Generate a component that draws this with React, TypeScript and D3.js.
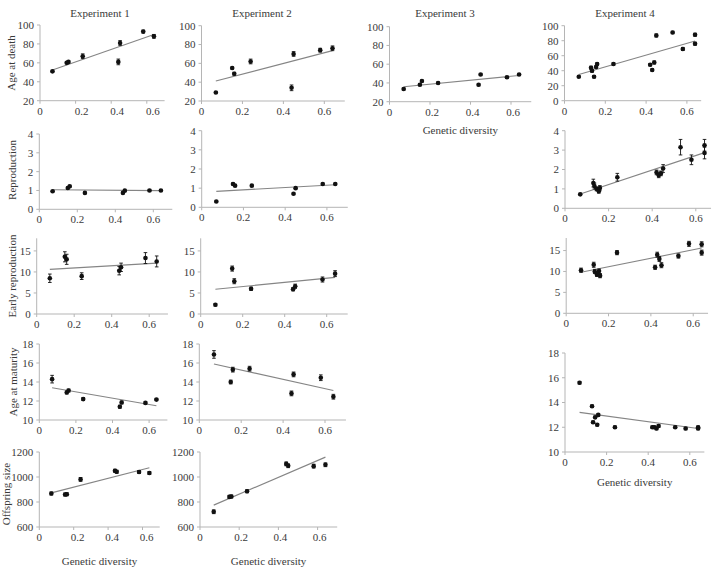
import * as d3 from 'd3'

const FONT = '"Liberation Serif", "Times New Roman", serif'
const INK = '#3a3a3a'
const AXIS = '#b5b5b5'
const FIT = '#858585'

// genetic diversity of the populations (experiments 1-3 and experiment 4)
const GD = [0.07, 0.15, 0.16, 0.24, 0.44, 0.45, 0.58, 0.64]
const GD4 = [0.07, 0.13, 0.135, 0.145, 0.155, 0.16, 0.24, 0.42, 0.43, 0.44, 0.45, 0.53, 0.58, 0.64, 0.64]

const X_TICKS = [0, 0.2, 0.4, 0.6]
const AGE_TICKS = [20, 40, 60, 80, 100]
const AGE4_TICKS = [0, 20, 40, 60, 80, 100]
const REPRO_TICKS = [0, 1, 2, 3, 4]
const EARLY_TICKS = [0, 5, 10, 15]
const MAT_TICKS = [10, 12, 14, 16, 18]
const OFF_TICKS = [600, 800, 1000, 1200]

const EXPERIMENTS = ['Experiment 1', 'Experiment 2', 'Experiment 3', 'Experiment 4']
const TRAITS = ['Age at death', 'Reproduction', 'Early reproduction', 'Age at maturity', 'Offspring size']

// age at death
const death1 = [51, 60, 61, 67, 61, 81, 93, 88]
const death1Err = [1, 1, 1, 2.5, 3, 2.5, 1.5, 2]
const death1Fit = [52.5, 90]
const death2 = [29, 55, 49, 62, 34, 70, 74, 76]
const death2Err = [1, 1, 1.5, 2.5, 3, 2.5, 2, 2.5]
const death2Fit = [41.2, 73.5]
const death3 = [33.5, 38, 42, 40, 38, 49, 46, 49]
const death3Err = [1, 1, 1, 1, 1, 1, 1, 1]
const death3Fit = [36, 48]
const death4 = [32, 44, 40, 32, 45, 49, 49, 48, 41, 51, 87, 91, 69, 88, 76]
const death4Err = [1, 2, 2, 1.5, 1.5, 1.5, 1.5, 1.5, 1.5, 2, 2, 1.5, 2, 2, 2]
const death4Fit = [35, 79.5]

// reproduction
const repro1 = [0.96, 1.13, 1.22, 0.87, 0.87, 0.99, 1.0, 1.0]
const repro1Err = [0.04, 0.05, 0.05, 0.04, 0.04, 0.04, 0.04, 0.04]
const repro1Fit = [1.04, 0.99]
const repro2 = [0.3, 1.22, 1.13, 1.13, 0.71, 1.0, 1.22, 1.22]
const repro2Err = [0.04, 0.05, 0.05, 0.05, 0.04, 0.04, 0.04, 0.04]
const repro2Fit = [0.83, 1.18]
const repro4 = [0.72, 1.3, 1.15, 1.0, 0.88, 1.05, 1.6, 1.85, 1.7, 1.8, 2.05, 3.15, 2.5, 3.25, 2.85]
const repro4Err = [0.05, 0.2, 0.15, 0.1, 0.1, 0.12, 0.2, 0.12, 0.12, 0.12, 0.2, 0.4, 0.25, 0.3, 0.3]
const repro4Fit = [0.74, 2.87]

// early reproduction
const early1 = [8.5, 13.6, 13.0, 9.0, 10.3, 11.1, 13.3, 12.5]
const early1Err = [1, 1.2, 1.2, 0.8, 1, 1, 1.3, 1.3]
const early1Fit = [10.6, 12.1]
const early2 = [2.2, 10.8, 7.8, 6.0, 5.9, 6.6, 8.2, 9.6]
const early2Err = [0.3, 0.6, 0.6, 0.4, 0.4, 0.5, 0.6, 0.7]
const early2Fit = [5.9, 8.7]
const early4 = [10.3, 11.6, 10.0, 9.3, 10.1, 9.0, 14.5, 11.0, 14.0, 13.0, 11.5, 13.7, 16.6, 16.5, 14.5]
const early4Err = [0.5, 0.6, 0.5, 0.5, 0.5, 0.5, 0.5, 0.5, 0.6, 0.6, 0.6, 0.5, 0.6, 0.6, 0.6]
const early4Fit = [9.8, 15.6]

// age at maturity
const mat1 = [14.3, 12.9, 13.1, 12.2, 11.4, 11.85, 11.8, 12.15]
const mat1Err = [0.4, 0.15, 0.15, 0.15, 0.15, 0.15, 0.1, 0.1]
const mat1Fit = [13.4, 11.5]
const mat2 = [16.9, 14.0, 15.3, 15.4, 12.8, 14.8, 14.45, 12.45]
const mat2Err = [0.4, 0.2, 0.25, 0.25, 0.25, 0.25, 0.3, 0.25]
const mat2Fit = [15.9, 13.1]
const mat4 = [15.6, 13.7, 12.4, 12.8, 12.2, 13.0, 12.0, 12.0, 12.0, 11.9, 12.1, 12.0, 11.9, 12.0, 11.9]
const mat4Err = [0.1, 0.1, 0.1, 0.1, 0.1, 0.1, 0.1, 0.1, 0.1, 0.1, 0.1, 0.1, 0.1, 0.1, 0.1]
const mat4Fit = [13.2, 11.9]

// offspring size
const off1 = [868, 860, 862, 981, 1050, 1042, 1040, 1032]
const off1Err = [12, 12, 12, 15, 12, 12, 12, 12]
const off1Fit = [873, 1074]
const off2 = [722, 841, 844, 886, 1105, 1090, 1087, 1098]
const off2Err = [15, 12, 12, 12, 15, 15, 15, 15]
const off2Fit = [775, 1159]

type Panel = {
  xs: number[]; ys: number[]; err: number[]; fit: number[]
  yDomain: number[]; yTicks: number[]
  x0: number; k: number; xMax: number; yTop: number; yBot: number
  labelDx?: number; xLabelDy?: number
}

const panels: Panel[] = [
  { xs: GD, ys: death1, err: death1Err, fit: death1Fit, yDomain: [20, 100], yTicks: AGE_TICKS, x0: 40, k: 178, xMax: 0.7, yTop: 25, yBot: 100.7, labelDx: 6 },
  { xs: GD, ys: death2, err: death2Err, fit: death2Fit, yDomain: [20, 100], yTicks: AGE_TICKS, x0: 201.5, k: 204.7, xMax: 0.7, yTop: 25.7, yBot: 101 },
  { xs: GD, ys: death3, err: death3Err, fit: death3Fit, yDomain: [20, 100], yTicks: AGE_TICKS, x0: 389.5, k: 202.5, xMax: 0.7, yTop: 26.7, yBot: 101.7, labelDx: 2, xLabelDy: 32 },
  { xs: GD4, ys: death4, err: death4Err, fit: death4Fit, yDomain: [0, 100], yTicks: AGE4_TICKS, x0: 564.5, k: 204, xMax: 0.67, yTop: 25.7, yBot: 100.7 },
  { xs: GD, ys: repro1, err: repro1Err, fit: repro1Fit, yDomain: [0, 4], yTicks: REPRO_TICKS, x0: 39.3, k: 190, xMax: 0.7, yTop: 134, yBot: 209.3 },
  { xs: GD, ys: repro2, err: repro2Err, fit: repro2Fit, yDomain: [0, 4], yTicks: REPRO_TICKS, x0: 201.7, k: 208.7, xMax: 0.7, yTop: 130.7, yBot: 207.3 },
  { xs: GD4, ys: repro4, err: repro4Err, fit: repro4Fit, yDomain: [0, 4], yTicks: REPRO_TICKS, x0: 565, k: 218, xMax: 0.67, yTop: 130.7, yBot: 208.3 },
  { xs: GD, ys: early1, err: early1Err, fit: early1Fit, yDomain: [0, 18], yTicks: EARLY_TICKS, x0: 36.7, k: 187.5, xMax: 0.7, yTop: 238.3, yBot: 314 },
  { xs: GD, ys: early2, err: early2Err, fit: early2Fit, yDomain: [0, 18], yTicks: EARLY_TICKS, x0: 200.7, k: 210, xMax: 0.7, yTop: 238.3, yBot: 314 },
  { xs: GD4, ys: early4, err: early4Err, fit: early4Fit, yDomain: [0, 18], yTicks: EARLY_TICKS, x0: 566.2, k: 211.7, xMax: 0.67, yTop: 238, yBot: 313.3 },
  { xs: GD, ys: mat1, err: mat1Err, fit: mat1Fit, yDomain: [10, 18], yTicks: MAT_TICKS, x0: 39.3, k: 183, xMax: 0.7, yTop: 344, yBot: 420 },
  { xs: GD, ys: mat2, err: mat2Err, fit: mat2Fit, yDomain: [10, 18], yTicks: MAT_TICKS, x0: 199.3, k: 209.5, xMax: 0.7, yTop: 344, yBot: 420 },
  { xs: GD4, ys: mat4, err: mat4Err, fit: mat4Fit, yDomain: [10, 18], yTicks: MAT_TICKS, x0: 565, k: 208, xMax: 0.67, yTop: 353, yBot: 452, xLabelDy: 34 },
  { xs: GD, ys: off1, err: off1Err, fit: off1Fit, yDomain: [600, 1200], yTicks: OFF_TICKS, x0: 39.3, k: 172, xMax: 0.7, yTop: 452, yBot: 527, labelDx: 4, xLabelDy: 38 },
  { xs: GD, ys: off2, err: off2Err, fit: off2Fit, yDomain: [600, 1200], yTicks: OFF_TICKS, x0: 200, k: 196, xMax: 0.7, yTop: 452, yBot: 527, labelDx: 2, xLabelDy: 38 },
]

const traitX = [15, 16, 16, 17, 10]
const traitY = [63, 170, 276, 382, 494]
const titleX = [100, 262, 445, 625]

function Scatter({ p }: { p: Panel }) {
  const x = d3.scaleLinear().domain([0, p.xMax]).range([p.x0, p.x0 + p.k * p.xMax])
  const y = d3.scaleLinear().domain(p.yDomain).range([p.yBot, p.yTop])
  const [xa, xb] = d3.extent(p.xs) as [number, number]
  return (
    <g>
      <line x1={x(0)} x2={x(0)} y1={p.yTop} y2={p.yBot} stroke={AXIS} />
      <line x1={x(0)} x2={x(p.xMax)} y1={p.yBot} y2={p.yBot} stroke={AXIS} />
      {p.yTicks.map((t) => (
        <g key={'y' + t}>
          <line x1={x(0) - 3} x2={x(0)} y1={y(t)} y2={y(t)} stroke={AXIS} />
          <text x={x(0) - 6} y={y(t)} dy="0.35em" textAnchor="end" fontSize={11} fill={INK}>{t}</text>
        </g>
      ))}
      {X_TICKS.map((t) => (
        <g key={'x' + t}>
          <line x1={x(t)} x2={x(t)} y1={p.yBot} y2={p.yBot + 3} stroke={AXIS} />
          <text x={x(t) + (t > 0 ? p.labelDx ?? 0 : 0)} y={p.yBot + 14} textAnchor="middle" fontSize={11} fill={INK}>{t}</text>
        </g>
      ))}
      <line x1={x(xa)} x2={x(xb)} y1={y(p.fit[0])} y2={y(p.fit[1])} stroke={FIT} strokeWidth={1.1} />
      {p.xs.map((v, i) => (
        <g key={i}>
          <line x1={x(v)} x2={x(v)} y1={y(p.ys[i] + p.err[i])} y2={y(p.ys[i] - p.err[i])} stroke="#111" strokeWidth={0.9} />
          <line x1={x(v) - 1.8} x2={x(v) + 1.8} y1={y(p.ys[i] + p.err[i])} y2={y(p.ys[i] + p.err[i])} stroke="#111" strokeWidth={0.9} />
          <line x1={x(v) - 1.8} x2={x(v) + 1.8} y1={y(p.ys[i] - p.err[i])} y2={y(p.ys[i] - p.err[i])} stroke="#111" strokeWidth={0.9} />
          <circle cx={x(v)} cy={y(p.ys[i])} r={2.3} fill="#111" />
        </g>
      ))}
      {p.xLabelDy && (
        <text x={(x(0) + x(p.xMax)) / 2} y={p.yBot + p.xLabelDy} textAnchor="middle" fontSize={11} fill={INK}>Genetic diversity</text>
      )}
    </g>
  )
}

export default function App() {
  return (
    <svg width={715} height={571} style={{ position: 'absolute', left: 0, top: 0, background: '#fff' }} fontFamily={FONT}>
      {EXPERIMENTS.map((e, i) => (
        <text key={e} x={titleX[i]} y={17} textAnchor="middle" fontSize={11} fill={INK}>{e}</text>
      ))}
      {TRAITS.map((t, i) => (
        <text key={t} transform={`translate(${traitX[i]}, ${traitY[i]}) rotate(-90)`} textAnchor="middle" fontSize={11} fill={INK}>{t}</text>
      ))}
      {panels.map((p, i) => <Scatter key={i} p={p} />)}
    </svg>
  )
}
